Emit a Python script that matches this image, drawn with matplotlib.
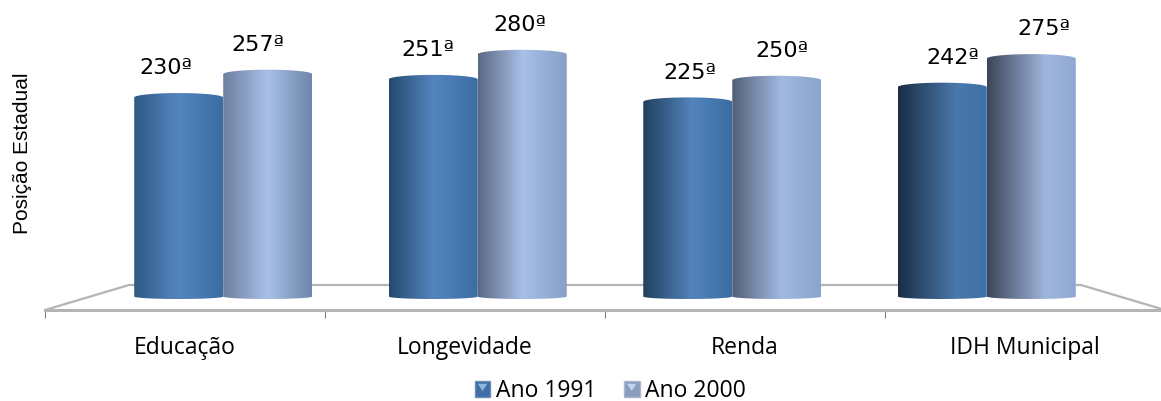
import numpy as np
import matplotlib
matplotlib.use("Agg")
import matplotlib.pyplot as plt
from matplotlib.colors import to_rgb, LinearSegmentedColormap
from matplotlib.path import Path
from matplotlib.patches import PathPatch, Rectangle, Polygon
from matplotlib.legend_handler import HandlerBase

categories = ["Educação", "Longevidade", "Renda", "IDH Municipal"]
ano_1991 = [230, 251, 225, 242]
ano_2000 = [257, 280, 250, 275]
series_names = ["Ano 1991", "Ano 2000"]
y_title = "Posição Estadual"

W, H = 1161, 401
PX = 1 / 280            # x data units per pixel
PY = 1 / 0.865          # y data units per pixel
FRONT, BAR_D, WALL_D, LABEL_D = 1.0, 0.909, 0.85, 1.03

# gradient stops (left, highlight, right) per group, darkening toward the right side
stops_1991 = [
    ["#2f5a88", "#5585be", "#3b6ca4"],
    ["#25496f", "#5585be", "#3b6ca4"],
    ["#20405f", "#5383bb", "#3b6ca4"],
    ["#1b2e46", "#4a78ab", "#3e70a8"],
]
stops_2000 = [
    ["#6f7f9f", "#a9c0e8", "#6f86aa"],
    ["#5a6883", "#a9c0e8", "#86a0c8"],
    ["#535f78", "#a2b8e0", "#8aa4cc"],
    ["#3d4658", "#9fb5dd", "#90a9d2"],
]
hi_pos = [0.5, 0.5, 0.55, 0.65]

plt.rcParams["font.family"] = ["Open Sans", "DejaVu Sans"]
fig = plt.figure(figsize=(W / 100, H / 100), dpi=100)
ax = fig.add_axes([45 / W, (H - 310) / H, 1120 / W, 310 / H])
ylim = (-(310 - 296.5) * PY, 296.5 * PY)


def depth(x, d):
    return 1.5 + (x - 1.5) * d


floor_color = "#b4b4b4"
for s in ("top", "left", "right"):
    ax.spines[s].set_visible(False)
ax.spines["bottom"].set_color(floor_color)
ax.spines["bottom"].set_linewidth(2.2)

wall_y = (296.5 - 285) * PY
xl, xr = -0.5, 3.5
ax.plot([xl, depth(xl, WALL_D), depth(xr, WALL_D), xr],
        [ylim[0], wall_y, wall_y, ylim[0]], color=floor_color, lw=1.6, zorder=1,
        clip_on=False, solid_joinstyle="miter")


def cylinder(cx, val, stops, hi, zorder):
    w = 89 * PX
    ry_top = 4.5 * PY
    ry_bot = 2.5 * PY
    t = np.linspace(0, np.pi, 60)
    top_x = cx + w / 2 * np.cos(t)
    top_y = val + ry_top * np.sin(t)
    bot_x = cx - w / 2 * np.cos(t)
    bot_y = -ry_bot * np.sin(t)
    verts = np.column_stack([np.r_[top_x, bot_x], np.r_[top_y, bot_y]])
    cmap = LinearSegmentedColormap.from_list(
        "c", [(0, to_rgb(stops[0])), (hi, to_rgb(stops[1])), (1, to_rgb(stops[2]))])
    grad = np.linspace(0, 1, 128).reshape(1, -1)
    im = ax.imshow(grad, cmap=cmap, extent=(cx - w / 2, cx + w / 2, -ry_bot, val + ry_top),
                   aspect="auto", zorder=zorder, interpolation="bilinear", vmin=0, vmax=1)
    patch = PathPatch(Path(np.vstack([verts, verts[0]]), closed=True), transform=ax.transData,
                      facecolor="none", edgecolor="none")
    ax.add_patch(patch)
    im.set_clip_path(patch)


half = 44.5 * PX
for i in range(len(categories)):
    c = depth(i, BAR_D)
    cylinder(c - half, ano_1991[i], stops_1991[i], hi_pos[i], 3)
    cylinder(c + half, ano_2000[i], stops_2000[i], hi_pos[i], 4)
    for cx, v in ((c - half, ano_1991[i]), (c + half, ano_2000[i])):
        ax.annotate(f"{v}ª", (depth(cx, LABEL_D), v), xytext=(0, 21), textcoords="offset points",
                    ha="center", va="center", fontsize=16, color="black", zorder=6,
                    family="DejaVu Sans")

ax.set_xlim(xl, xr)
ax.set_ylim(*ylim)
ax.set_yticks([])
ax.set_xticks(np.arange(xl, xr + 1), labels=[""] * 5)
ax.set_xticks(np.arange(len(categories)), labels=categories, minor=True)
ax.tick_params(axis="x", which="major", length=5.5, width=0.8, color="#808080")
ax.tick_params(axis="x", which="minor", length=0, pad=19, labelsize=16.5, labelcolor="black")

fig.text(23 / W, 1 - 153 / H, y_title, rotation=90, ha="center", va="center",
         family="Liberation Sans", fontsize=15, color="black")


class HandlerSwatch(HandlerBase):
    def create_artists(self, legend, orig, x, y, w, h, fontsize, trans):
        rect = Rectangle((x, y), w, h, facecolor=orig.get_facecolor(),
                         edgecolor=orig.get_edgecolor(), lw=1, transform=trans)
        tri = Polygon([(x + 0.2 * w, y + 0.8 * h), (x + 0.8 * w, y + 0.8 * h), (x + 0.5 * w, y + 0.35 * h)],
                      facecolor=orig.get_gid(), edgecolor="none", transform=trans)
        return [rect, tri]


h1 = Rectangle((0, 0), 1, 1, facecolor="#3f6ea6", edgecolor="#6d8fb8", gid="#8fb4e0")
h2 = Rectangle((0, 0), 1, 1, facecolor="#8a9dc0", edgecolor="#a9b7cf", gid="#c4d4ee")
fig.legend([h1, h2], series_names, loc="center", bbox_to_anchor=(610.5 / W, 1 - 391 / H),
           ncol=2, frameon=False, fontsize=16.5, handlelength=0.68, handleheight=0.72,
           handletextpad=0.25, columnspacing=1.2, borderpad=0,
           handler_map={Rectangle: HandlerSwatch()})

fig.savefig("out.png", dpi=100)
